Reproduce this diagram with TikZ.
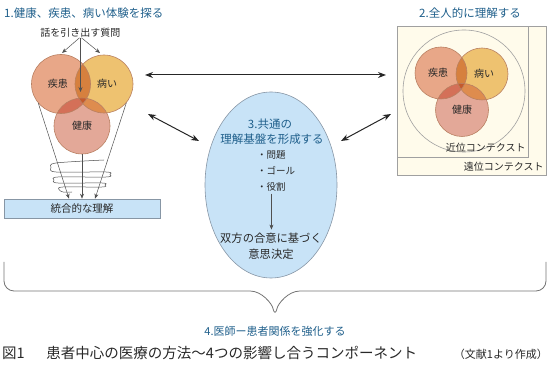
\documentclass[tikz,border=0pt]{standalone}
\usepackage{fontspec}
\setmainfont{Noto Sans CJK JP}
\usetikzlibrary{arrows.meta,shapes.geometric,positioning}
\definecolor{titleblue}{RGB}{31,95,139}
\definecolor{textgray}{RGB}{40,40,40}
\definecolor{linegray}{RGB}{80,80,80}
\definecolor{boxgray}{RGB}{160,160,160}
\definecolor{cream}{RGB}{255,251,235}
\definecolor{diseasecol}{RGB}{232,167,136}
\definecolor{illnesscol}{RGB}{238,194,112}
\definecolor{healthcol}{RGB}{227,168,152}
\definecolor{lensdi}{RGB}{214,128,62}
\definecolor{lensdh}{RGB}{212,112,88}
\definecolor{lensih}{RGB}{222,140,78}
\definecolor{lensall}{RGB}{196,90,45}
\definecolor{circedge}{RGB}{185,128,98}
\definecolor{skyfill}{RGB}{200,227,247}
\definecolor{skyedge}{RGB}{135,150,165}
\newcommand\fsz[1]{\fontsize{#1pt}{#1pt}\selectfont}
\tikzset{
    % texts
    ttl/.style={font=\fsz{11.5}, text=titleblue, inner sep=0pt},
    lbl/.style={font=\fsz{10}, text=textgray, inner sep=0pt},
    captext/.style={font=\fsz{14.5}, text=textgray, inner sep=0pt},
    % the three experience circles
    expcircle/.style={circle, inner sep=0pt, font=\fsz{10}, text=textgray},
    disease/.style={expcircle, fill=diseasecol},
    illness/.style={expcircle, fill=illnesscol},
    health/.style={expcircle, fill=healthcol},
    ring/.style={draw=circedge, line width=0.6pt},
    % boxes and shapes
    ctxbox/.style={rectangle, draw=boxgray, fill=cream, line width=0.7pt, inner sep=0pt},
    skybox/.style={rectangle, draw=skyedge, fill=skyfill, line width=0.6pt},
    % connectors
    arr/.style={-{Stealth[length=5pt,width=4pt]}, line width=0.5pt, linegray},
    thinline/.style={line width=0.5pt, linegray},
    dbl/.style={{Stealth[length=8pt,width=6pt]}-{Stealth[length=8pt,width=6pt]},
                line width=1pt, black!85},
    brace/.style={line width=0.8pt, black!55, rounded corners=10pt},
}

\begin{document}
\begin{tikzpicture}[x=1pt,y=-1pt]
  \useasboundingbox (0,0) rectangle (550,371);

  % 1. exploring
  \node[ttl, anchor=west] (t1) at (4,13) {1.健康、疾患、病い体験を探る};
  \node[lbl] (ask) at (80.5,33) {話を引き出す質問};
  \node[skybox, minimum width=156pt, minimum height=19pt, inner sep=0pt,
        font=\fsz{10.5}, text=textgray] (bar) at (82,208.5) {統合的な理解};
  \node[disease, minimum size=59pt] (ldis) at (61,84) {};
  \node[illness, minimum size=58pt] (lill) at (104,84) {};
  \node[health, minimum size=56pt] (lhea) at (82,126) {};
  % overlaps
  \begin{scope}
    \clip (ldis.center) circle[radius=29.5pt];
    \fill[lensdi] (lill.center) circle[radius=29pt];
    \fill[lensdh] (lhea.center) circle[radius=28pt];
    \clip (lill.center) circle[radius=29pt];
    \fill[lensall] (lhea.center) circle[radius=28pt];
  \end{scope}
  \begin{scope}
    \clip (lill.center) circle[radius=29pt];
    \clip (lhea.center) circle[radius=28pt];
    \fill[lensih] (lhea.center) circle[radius=28pt];
    \clip (ldis.center) circle[radius=29.5pt];
    \fill[lensall] (lhea.center) circle[radius=28pt];
  \end{scope}
  \draw[ring] (ldis.center) circle[radius=29.5pt];
  \draw[ring] (lill.center) circle[radius=29pt];
  \draw[ring] (lhea.center) circle[radius=28pt];
  \node[lbl] at ([xshift=-3pt]ldis) {疾患};
  \node[lbl] at ([xshift=3pt]lill) {病い};
  \node[lbl] at (lhea) {健康};
  \coordinate (qa) at (62,53);
  \coordinate (qb) at (100,53);
  \coordinate (qm) at (80.5,92);
  \draw[arr] ([xshift=-1pt]ask.south) -- (qa);
  \draw[arr] ([xshift=1pt]ask.south) -- (qb);
  \draw[arr] (ask.south) -- (qm);
  \draw[arr] (ldis.220) -- ([xshift=-13pt]bar.north);
  \draw[arr] (lhea.south) -- (bar.north);
  \draw[arr] (lill.320) -- ([xshift=13pt]bar.north);
  % spiral
  \draw[thinline] plot[smooth, tension=0.55] coordinates {(104,160)(56,163)(51,167.5)(56,172)
     (106,172)(110,174.5)(106,177)(58,177)(54,180)(58,183)(102,183)(105,185)(102,187)
     (63,187)(59,189.5)(63,192)(72,192)};

  % 2. whole person
  \node[ttl] (t2) at (470,13) {2.全人的に理解する};
  \node[ctxbox, anchor=north west, minimum width=149pt, minimum height=149pt] (far) at (397,26) {};
  \node[ctxbox, anchor=north west, minimum width=131pt, minimum height=131pt] (near) at (397,26) {};
  \node[circle, draw=boxgray, line width=0.6pt, minimum size=122pt] (whole) at (464,91) {};
  \node[disease, minimum size=52pt] (rdis) at (441,73) {};
  \node[illness, minimum size=52pt] (rill) at (482,74) {};
  \node[health, minimum size=53pt] (rhea) at (462,110) {};
  % overlaps
  \begin{scope}
    \clip (rdis.center) circle[radius=26pt];
    \fill[lensdi] (rill.center) circle[radius=26pt];
    \fill[lensdh] (rhea.center) circle[radius=26.5pt];
    \clip (rill.center) circle[radius=26pt];
    \fill[lensall] (rhea.center) circle[radius=26.5pt];
  \end{scope}
  \begin{scope}
    \clip (rill.center) circle[radius=26pt];
    \clip (rhea.center) circle[radius=26.5pt];
    \fill[lensih] (rhea.center) circle[radius=26.5pt];
    \clip (rdis.center) circle[radius=26pt];
    \fill[lensall] (rhea.center) circle[radius=26.5pt];
  \end{scope}
  \draw[ring] (rdis.center) circle[radius=26pt];
  \draw[ring] (rill.center) circle[radius=26pt];
  \draw[ring] (rhea.center) circle[radius=26.5pt];
  \node[lbl] at ([xshift=-3pt]rdis) {疾患};
  \node[lbl] at ([xshift=2pt]rill) {病い};
  \node[lbl] at (rhea) {健康};
  \node[lbl, anchor=south east] (nearlab) at ([shift={(-3pt,5pt)}]near.south east) {近位コンテクスト};
  \node[lbl, anchor=south east] (farlab) at ([shift={(-3pt,4pt)}]far.south east) {遠位コンテクスト};

  % 3. common ground
  \node[ellipse, draw=skyedge, fill=skyfill, line width=0.6pt,
        minimum width=132pt, minimum height=186pt] (common) at (271,185) {};
  \node[ttl] (ct1) at (270,124) {3.共通の};
  \node[ttl] (ct2) at (272,139) {理解基盤を形成する};
  \node[lbl, font=\fsz{9.5}, anchor=west] (b1) at (257,155) {・問題};
  \node[lbl, font=\fsz{9.5}, anchor=west] (b2) at (257,171) {・ゴール};
  \node[lbl, font=\fsz{9.5}, anchor=west] (b3) at (257,187) {・役割};
  \node[lbl, font=\fsz{11.3}] (dec1) at (271,238) {双方の合意に基づく};
  \node[lbl, font=\fsz{11.3}] (dec2) at (271,254) {意思決定};
  \draw[arr] ([yshift=-2pt]b3.south) -- ([yshift=3pt]b3.south |- dec1.north);

  % links between the components
  \coordinate (h1) at (145,75);  \coordinate (h2) at (386,75);
  \coordinate (dl1) at (148,114); \coordinate (dl2) at (199,141);
  \coordinate (dr1) at (391,114); \coordinate (dr2) at (341,141);
  \draw[dbl] (h1) -- (h2);
  \draw[dbl] (dl1) -- (dl2);
  \draw[dbl] (dr1) -- (dr2);

  % 4. relationship
  \coordinate (tip) at (275,318);
  \draw[brace] (4,262) |- (240,291) .. controls (262,291) and (272,304) .. (tip)
     .. controls (278,304) and (288,291) .. (310,291) -| (546,262);
  \node[ttl, font=\fsz{11}] (t4) at (275,331) {4.医師ー患者関係を強化する};

  % caption
  \node[captext, anchor=west] (fig) at (2,353) {図1\hspace{1.5em}患者中心の医療の方法～4つの影響し合うコンポーネント};
  \node[lbl, font=\fsz{11}, anchor=east] (src) at (548,354) {（文献1より作成）};
\end{tikzpicture}
\end{document}
